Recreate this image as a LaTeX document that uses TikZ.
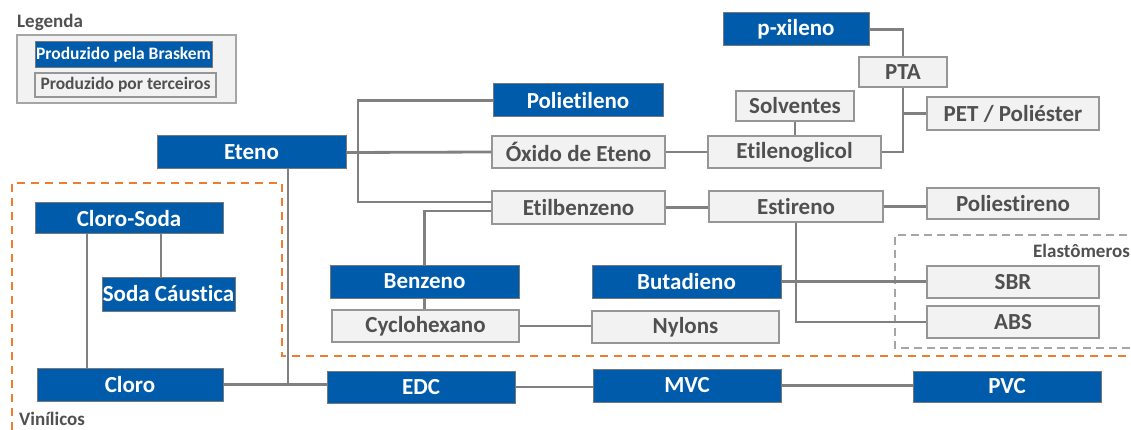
\documentclass[tikz,border=0pt]{standalone}
\usepackage{fontspec}
\setmainfont{Carlito}[Ligatures={NoCommon}]
\definecolor{bblue}{RGB}{0,91,170}
\definecolor{bborder}{RGB}{120,120,120}
\definecolor{gfill}{RGB}{242,242,242}
\definecolor{gborder}{RGB}{150,150,150}
\definecolor{gtext}{RGB}{80,80,80}
\definecolor{conn}{RGB}{128,128,128}
\definecolor{orng}{RGB}{237,125,49}
\definecolor{dgray}{RGB}{166,166,166}
\tikzset{
  bluebox/.style={draw=bborder, line width=1pt, fill=bblue, text=white, inner sep=0pt,
    font=\fontsize{23}{26}\selectfont\bfseries},
  graybox/.style={draw=gborder, line width=1.2pt, fill=gfill, text=gtext, inner sep=0pt,
    font=\fontsize{23}{26}\selectfont\bfseries},
  conline/.style={draw=conn, line width=2.8pt},
  lbl/.style={text=gtext, inner sep=0pt, font=\fontsize{19}{22}\selectfont\bfseries},
  legfont/.style={font=\fontsize{17.5}{20}\selectfont\bfseries},
}
\begin{document}
\begin{tikzpicture}[x=1pt,y=-1pt]
\useasboundingbox (0,0) rectangle (1131,430);
\fill[white] (0,0) rectangle (1131,430);

% legend
\node[lbl, anchor=base west] (legtitle) at (17,28) {Legenda};
\draw[draw=dgray, line width=1.3pt, fill=gfill] (17,35) rectangle (236,103);
\node[bluebox, legfont, minimum width=177pt, minimum height=26pt] (legblue) at (123.5,55) {Produzido pela Braskem};
\node[graybox, legfont, minimum width=181pt, minimum height=24pt] (leggray) at (125.5,85) {Produzido por terceiros};

% dashed regions
\draw[orng, line width=2pt, dash pattern=on 8pt off 6pt] (12,430) -- (12,183) -- (282,183) -- (282,356) -- (1140,356);
\draw[dgray, line width=2pt, dash pattern=on 8pt off 5pt] (1140,235) -- (895,235) -- (895,348) -- (1140,348);
\node[lbl, anchor=base east] (elast) at (1130,257) {Elastômeros};
\node[lbl, anchor=base west] (vinil) at (19,425) {Vinílicos};

% nodes
\node[bluebox, minimum width=146pt, minimum height=33pt] (pxileno) at (796,29.5) {p-xileno};
\node[graybox, minimum width=88pt, minimum height=30pt] (pta) at (903,72) {PTA};
\node[graybox, minimum width=172pt, minimum height=33pt] (pet) at (1013,113.5) {PET / Poliéster};
\node[graybox, minimum width=118pt, minimum height=30pt] (solv) at (795,106) {Solventes};
\node[graybox, minimum width=173pt, minimum height=32pt] (etgl) at (794.5,152) {Etilenoglicol};
\node[bluebox, minimum width=189pt, minimum height=33pt] (eteno) at (251.5,152.5) {Eteno};
\node[bluebox, minimum width=170pt, minimum height=33pt] (polietileno) at (578,100.5) {Polietileno};
\node[graybox, minimum width=173pt, minimum height=32pt] (oxido) at (578.5,152) {Óxido de Eteno};
\node[graybox, minimum width=173pt, minimum height=33pt] (etbz) at (578.5,207.5) {Etilbenzeno};
\node[graybox, minimum width=174pt, minimum height=31pt] (estireno) at (796,206.5) {Estireno};
\node[graybox, minimum width=172pt, minimum height=31pt] (poliest) at (1013,203.5) {Poliestireno};
\node[bluebox, minimum width=189pt, minimum height=33pt] (benzeno) at (424.5,281.5) {Benzeno};
\node[graybox, minimum width=187pt, minimum height=32pt] (cyclo) at (425.5,326) {Cyclohexano};
\node[bluebox, minimum width=189pt, minimum height=33pt] (butad) at (686.5,281.5) {Butadieno};
\node[graybox, minimum width=187pt, minimum height=32pt] (nylons) at (685.5,327) {Nylons};
\node[graybox, minimum width=172pt, minimum height=32pt] (sbr) at (1013,282) {SBR};
\node[graybox, minimum width=172pt, minimum height=32pt] (abs) at (1013,322) {ABS};
\node[bluebox, minimum width=188pt, minimum height=31pt] (clsoda) at (129,218.5) {Cloro-Soda};
\node[bluebox, minimum width=133pt, minimum height=34pt] (soda) at (168.5,294) {Soda Cáustica};
\node[bluebox, minimum width=186pt, minimum height=33pt] (cloro) at (130,384.5) {Cloro};
\node[bluebox, minimum width=188pt, minimum height=32pt] (edc) at (421,387) {EDC};
\node[bluebox, minimum width=188pt, minimum height=33pt] (mvc) at (687,385.5) {MVC};
\node[bluebox, minimum width=188pt, minimum height=31pt] (pvc) at (1007,386.5) {PVC};

% helper coordinates
\coordinate (trunk) at (358,0);
\coordinate (eb1) at ([yshift=5.5pt]etbz.west);
\coordinate (eb2) at ([yshift=-3.5pt]etbz.west);
\coordinate (etdown) at ([xshift=36.5pt]eteno.south);
\coordinate (cs1) at ([xshift=-42pt]clsoda.south);
\coordinate (cs2) at ([xshift=32pt]clsoda.south);

% connectors
\draw[conline] (pxileno.east) -| (pta.north);
\draw[conline] (pta.south) |- (etgl.east);
\draw[conline] (pta.south |- pet.west) -- (pet.west);
\draw[conline] (solv.south) -- (solv.south |- etgl.north);
\draw[conline] (eteno.east) -- (oxido.west);
\draw[conline] (polietileno.west) -| (trunk |- eb1) -- (eb1);
\draw[conline] (benzeno.north) |- (eb2);
\draw[conline] (benzeno.south) -- (benzeno.south |- cyclo.north);
\draw[conline] (cyclo.east) -- (cyclo.east -| nylons.west);
\draw[conline] (oxido.east) -- (etgl.west);
\draw[conline] (etbz.east) -- (etbz.east -| estireno.west);
\draw[conline] (estireno.east) -- (estireno.east -| poliest.west);
\draw[conline] (estireno.south) |- (abs.west);
\draw[conline] (butad.east) -- (butad.east -| sbr.west);
\draw[conline] (cs1) -- (cs1 |- cloro.north);
\draw[conline] (cs2) -- (cs2 |- soda.north);
\draw[conline] (cloro.east) -- (cloro.east -| edc.west);
\draw[conline] (etdown) -- (etdown |- cloro.east);
\draw[conline] (edc.east) -- (edc.east -| mvc.west);
\draw[conline] (mvc.east) -- (mvc.east -| pvc.west);
\end{tikzpicture}
\end{document}
